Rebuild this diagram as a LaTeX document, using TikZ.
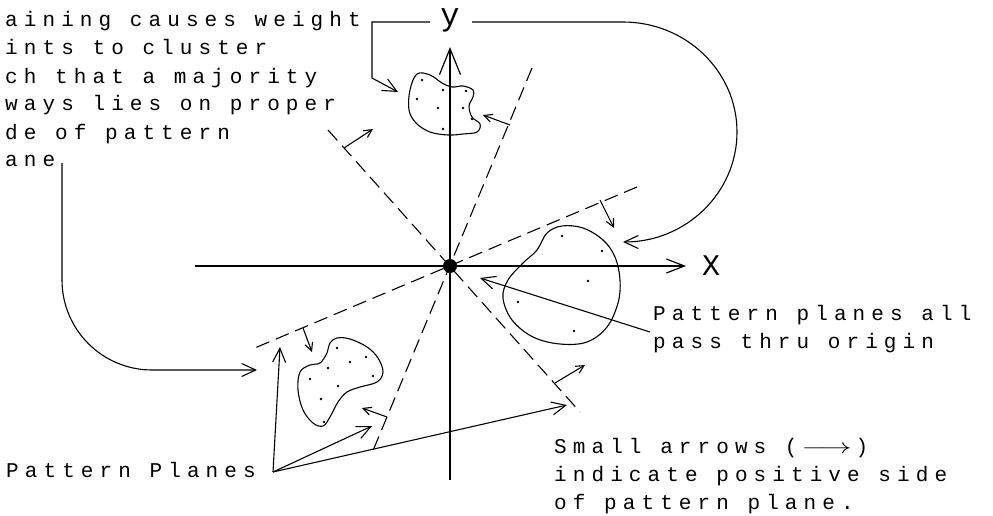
\documentclass[tikz,border=0pt]{standalone}
\usepackage{fontspec}
\usepackage{graphicx}
\usetikzlibrary{arrows.meta, calc}
\newfontfamily\plotfont[LetterSpace=29]{Liberation Mono}
\newfontfamily\labelfont{Liberation Mono}
\newcommand{\posarrow}{\makebox[58pt][c]{\scalebox{1.5}[1]{$\longrightarrow$}}}

\tikzset{
  plane/.style={line width=1.1pt, dash pattern=on 14pt off 7pt},
  axisline/.style={line width=1.2pt},
  pointer/.style={line width=1.1pt, -{Straight Barb[length=14pt, width=13pt]}},
  sidemark/.style={line width=1.1pt, -{Straight Barb[length=8pt, width=8pt]}},
  blob/.style={line width=1.1pt},
  note/.style={font=\plotfont\fontsize{21}{28}\selectfont, align=left, inner sep=0pt, anchor=base west},
}

\begin{document}
\begin{tikzpicture}[x=1pt, y=-1pt]
\useasboundingbox (0,0) rectangle (993,516);

% === axes ===
\coordinate (o) at (450,266);
\coordinate (xl) at (195,266);
\coordinate (xr) at (686,266);
\coordinate (yb) at (450,480);
\coordinate (yt) at (450,47);
\draw[axisline, -{Straight Barb[length=18pt, width=14pt]}] (xl) -- (xr);
\draw[axisline, -{Straight Barb[length=26pt, width=21pt]}] (yb) -- (yt);
\node[font=\labelfont\fontsize{30}{30}\selectfont, inner sep=0pt, anchor=base] (xlab) at (711,275) {X};
\node[font=\labelfont\fontsize{32}{32}\selectfont, inner sep=0pt, anchor=base] (ylab) at (450,26) {y};
\fill (o) circle (7pt);

% === pattern planes ===
\coordinate (a1) at (328,130);
\coordinate (a2) at (580,412);
\coordinate (b1) at (532,68);
\coordinate (b2) at (372,453);
\coordinate (c1) at (637,187);
\coordinate (c2) at (250,350);
\draw[plane] (a1) -- (a2);
\draw[plane] (b1) -- (b2);
\draw[plane] (c1) -- (c2);

% positive sides
\coordinate (ta1) at (344,148); \coordinate (ta1h) at (373,129);
\coordinate (ta2) at (555,383); \coordinate (ta2h) at (585,365);
\coordinate (tb1) at (510,125); \coordinate (tb1h) at (483,115);
\coordinate (tb2) at (387,417); \coordinate (tb2h) at (362,408);
\coordinate (tc1) at (600,200); \coordinate (tc1h) at (614,228);
\coordinate (tc2) at (303,328); \coordinate (tc2h) at (312,352);
\foreach \s in {ta1,ta2,tb1,tb2,tc1,tc2}
  \draw[sidemark] (\s) -- (\s h);

% === clusters ===
\draw[blob] plot[smooth cycle, tension=0.6] coordinates {
  (417,74) (430,75) (442,83) (452,87) (463,86) (473,90) (473,97) (469,106)
  (472,117) (480,124) (477,132) (463,134) (448,135) (430,132) (416,123)
  (409,110) (410,90)};
\draw[blob] plot[smooth cycle, tension=0.6] coordinates {
  (562,226) (583,228) (603,240) (615,257) (620,280) (618,303) (607,327)
  (587,342) (560,344) (533,337) (512,320) (503,298) (508,280) (523,263)
  (537,250) (547,233)};
\draw[blob] plot[smooth cycle, tension=0.6] coordinates {
  (337,338) (350,339) (367,347) (378,358) (383,372) (377,382) (360,387)
  (347,392) (338,402) (330,417) (323,426) (313,423) (303,410) (298,390)
  (300,372) (310,365) (320,363) (327,353) (330,343)};
\foreach \p in {(422,80),(443,90),(466,91),(417,99),(438,108),(463,108),(472,119),(443,129),
  (562,236),(602,251),(588,281),(518,302),(574,331),
  (337,348),(350,362),(366,357),(328,368),(310,379),(373,376),(338,386),(321,399),(324,422)}
  \fill \p circle (1.3pt);

% === notes (placed at the baseline of their last line) ===
\node[note] (train) at (5,167) {aining causes weight\\ints to cluster\\ch that a majority\\ways lies on proper\\de of pattern\\ane};
\node[note] (allorig) at (653,348) {Pattern planes all\\pass thru origin};
\node[note] (smallarr) at (554,509) {Small arrows (\posarrow)\\indicate positive side\\of pattern plane.};
\node[note] (pplanes) at (6,477) {Pattern Planes};

% === pointers ===
\coordinate (brk) at (372,22);
\coordinate (yl) at (430,22);
\coordinate (yr) at (472,22);
\coordinate (bend) at (372,78);
\coordinate (tbtip) at (398,92);
\draw[pointer] (yl) -- (brk) -- (bend) -- (tbtip);
\draw[pointer] (yr) -- (623,22) arc[start angle=90, end angle=-90, x radius=114pt, y radius=110pt];

\coordinate (anefoot) at (62,163);
\coordinate (lcorner) at (62,370);
\coordinate (lbtip) at (257,370);
\draw[pointer, rounded corners=90pt] (anefoot) -- (lcorner) -- (lbtip);

\coordinate (ppfoot) at (273,472);
\coordinate (ppa) at (280,347);
\coordinate (ppb) at (372,426);
\coordinate (ppc) at (567,405);
\foreach \t in {ppa,ppb,ppc}
  \draw[pointer] (ppfoot) -- (\t);

\coordinate (orgfoot) at (650,332);
\coordinate (orgtip) at (480,278);
\draw[pointer] (orgfoot) -- (orgtip);

\end{tikzpicture}
\end{document}
